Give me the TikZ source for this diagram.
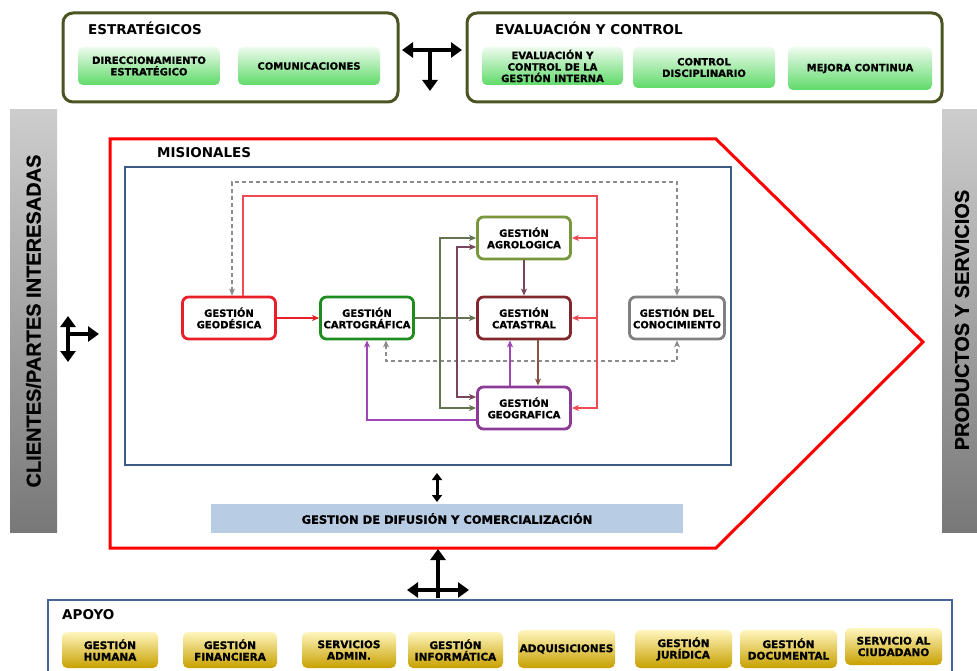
\documentclass[tikz,border=0pt]{standalone}
\usepackage{fontspec}
\setmainfont{DejaVu Sans}
\newfontfamily\heavyfont{DejaVu Sans}[BoldFeatures={FakeBold=1.1}]
\newfontfamily\libsans{Liberation Sans}[BoldFeatures={FakeBold=0.6}]
\usetikzlibrary{arrows.meta}
\definecolor{frameol}{RGB}{75,85,35}
\definecolor{gtop}{RGB}{238,251,238}
\definecolor{gbot}{RGB}{95,218,105}
\definecolor{ytop}{RGB}{255,246,190}
\definecolor{ymid}{RGB}{245,205,10}
\definecolor{ybot}{RGB}{200,160,0}
\definecolor{bluefr}{RGB}{60,90,130}
\definecolor{apoyofr}{RGB}{70,100,150}
\definecolor{difu}{RGB}{184,204,228}
\definecolor{graytop}{RGB}{205,205,205}
\definecolor{graybot}{RGB}{120,120,120}
\definecolor{cgeo}{RGB}{232,30,40}
\definecolor{ccarto}{RGB}{30,140,30}
\definecolor{cagro}{RGB}{120,150,60}
\definecolor{ccat}{RGB}{130,40,45}
\definecolor{cgeog}{RGB}{140,60,150}
\definecolor{ccon}{RGB}{128,128,128}
\definecolor{redbus}{RGB}{240,75,85}
\definecolor{olivec}{RGB}{100,115,80}
\definecolor{mauvec}{RGB}{120,70,90}
\definecolor{brownc}{RGB}{135,85,70}
\definecolor{purplec}{RGB}{160,70,180}
\definecolor{dashc}{RGB}{140,140,140}
\begin{document}
\begin{tikzpicture}[x=1pt,y=-1pt,
  bigtip/.tip={Triangle[width=15pt,length=11pt]},
  midtip/.tip={Triangle[width=10pt,length=7pt]},
  smtip/.tip={Stealth[length=7pt,width=6pt,inset=2pt]},
  titletext/.style={anchor=west,inner sep=0pt,font=\fontsize{13.5}{15}\selectfont\bfseries},
  lbl/.style={align=center,inner sep=0pt,font=\heavyfont\fontsize{10}{11.5}\selectfont\bfseries},
  outerframe/.style={draw=frameol,line width=3pt,rounded corners=10pt,inner sep=0pt},
  greenbox/.style={lbl,rounded corners=5pt,top color=gtop,bottom color=gbot,minimum height=38pt},
  yellowbox/.style={lbl,font=\heavyfont\fontsize{10.5}{11.5}\selectfont\bfseries,rounded corners=5pt,top color=ytop,middle color=ymid,bottom color=ybot,minimum height=36pt},
  mnode/.style={lbl,draw,fill=white,rounded corners=6pt,line width=2.8pt,minimum width=93pt,minimum height=42pt},
  graybar/.style={inner sep=0pt,top color=graytop,bottom color=graybot},
  sidetext/.style={rotate=90,inner sep=0pt,font=\libsans\bfseries\fontsize{20}{22}\selectfont},
  bigarr/.style={line width=3.5pt,black},
  conn/.style={line width=1.1pt},
  dconn/.style={line width=1.1pt,dashc,dash pattern=on 4pt off 3pt}
]
\useasboundingbox (0,0) rectangle (977,671);
\clip (0,0) rectangle (977,671);
\fill[white] (0,0) rectangle (977,671);

% top frames
\node[outerframe,minimum width=335pt,minimum height=89pt] (estr) at (230.5,57.5) {};
\node[outerframe,minimum width=475pt,minimum height=89pt] (evalc) at (704.5,57.5) {};
\node[titletext] (testr) at (88,28) {ESTRATÉGICOS};
\node[titletext] (teval) at (495,28) {EVALUACIÓN Y CONTROL};
\node[greenbox,minimum width=142pt] (dir) at (149,66) {DIRECCIONAMIENTO\\ESTRATÉGICO};
\node[greenbox,minimum width=142pt] (com) at (309,66) {COMUNICACIONES};
\node[greenbox,minimum width=141pt] (evg) at (552.5,66) {EVALUACIÓN Y\\CONTROL DE LA\\GESTIÓN INTERNA};
\node[greenbox,minimum width=142pt,minimum height=41pt] (cdis) at (704,67.5) {CONTROL\\DISCIPLINARIO};
\node[greenbox,minimum width=144pt,minimum height=43pt] (mej) at (860,68.5) {MEJORA CONTINUA};

% top T arrow
\coordinate (tL) at (402,50);
\coordinate (tR) at (462,50);
\coordinate (tM) at (430,50);
\coordinate (tD) at (430,91);
\draw[bigarr,{bigtip}-{bigtip}] (tL) -- (tR);
\draw[bigarr,-{bigtip}] (tM) -- (tD);

% side bars
\node[graybar,minimum width=47pt,minimum height=422pt] (lbar) at (33.5,321) {};
\node[sidetext] (ltext) at (lbar.center) {CLIENTES/PARTES INTERESADAS};
\node[graybar,minimum width=40pt,minimum height=422pt] (rbar) at (962,321) {};
\node[sidetext] (rtext) at (962,320) {PRODUCTOS Y SERVICIOS};

% left arrow
\coordinate (lv1) at (68,316);
\coordinate (lv2) at (68,362);
\coordinate (lh1) at (68,334);
\coordinate (lh2) at (99,334);
\draw[bigarr,{bigtip}-{bigtip}] (lv1) -- (lv2);
\draw[bigarr,-{bigtip}] (lh1) -- (lh2);

% misionales pentagon
\draw[red,line width=3pt] (110,139) -- (716,139) -- (923,342) -- (716,548) -- (110,548) -- cycle;
\node[titletext] (tmis) at (157,153) {MISIONALES};
\draw[bluefr,line width=2pt] (125,167) rectangle (731,465);

% process nodes
\node[mnode,draw=cgeo] (geo) at (229,318) {GESTIÓN\\GEODÉSICA};
\node[mnode,draw=ccarto] (carto) at (367,318) {GESTIÓN\\CARTOGRÁFICA};
\node[mnode,draw=cagro] (agro) at (524,238) {GESTIÓN\\AGROLOGICA};
\node[mnode,draw=ccat] (cat) at (524,318) {GESTIÓN\\CATASTRAL};
\node[mnode,draw=cgeog] (geog) at (524,408) {GESTIÓN\\GEOGRAFICA};
\node[mnode,draw=ccon,minimum width=95pt] (con) at (677,318) {GESTIÓN DEL\\CONOCIMIENTO};

% dashed links
\coordinate (dtop) at (450,182);
\coordinate (dbot) at (500,361);
\draw[dconn,{smtip}-{smtip}] ([xshift=3pt]geo.north) |- (dtop) -| (con.north);
\draw[dconn,{smtip}-{smtip}] ([xshift=19pt]carto.south) |- (dbot) -| (con.south);

% red bus
\coordinate (rtop) at (420,196);
\coordinate (rb1) at (597,238);
\coordinate (rb2) at (597,318);
\draw[conn,redbus] ([xshift=14pt]geo.north) |- (rtop) -| (rb1);
\draw[conn,redbus,-{smtip}] (rb1) |- (geog.east);
\draw[conn,redbus,-{smtip}] (rb1) -- (agro.east);
\draw[conn,redbus,-{smtip}] (rb2) -- (cat.east);

% direct links
\draw[conn,cgeo,-{smtip}] (geo) -- (carto);
\draw[conn,olivec,-{smtip}] (carto) -- (cat);
\coordinate (oj) at (440,318);
\draw[conn,olivec,-{smtip}] (oj) |- (agro.west);
\draw[conn,olivec,-{smtip}] (oj) |- (geog.west);
\coordinate (mj) at (457,318);
\draw[conn,mauvec,{smtip}-{smtip}] ([yshift=-9pt]agro.west) -| (mj) |- ([yshift=11pt]geog.west);
\draw[conn,mauvec,-{smtip}] (agro) -- (cat);
\draw[conn,brownc,-{smtip}] ([xshift=14pt]cat.south) -- ([xshift=14pt]geog.north);
\draw[conn,purplec,-{smtip}] ([xshift=-14pt]geog.north) -- ([xshift=-14pt]cat.south);
\draw[conn,purplec,-{smtip}] ([yshift=-12pt]geog.west) -| (carto.south);

% difusion
\coordinate (sa1) at (437,473);
\coordinate (sa2) at (437,502);
\draw[line width=3pt,{midtip}-{midtip}] (sa1) -- (sa2);
\node[fill=difu,minimum width=472pt,minimum height=29pt,inner sep=0pt,font=\heavyfont\fontsize{11.5}{13}\selectfont\bfseries] (difn) at (447,518.5) {GESTION DE DIFUSIÓN Y COMERCIALIZACIÓN};

% bottom T arrow
\coordinate (bv1) at (438,598);
\coordinate (bv2) at (438,549);
\coordinate (bh1) at (407,590);
\coordinate (bh2) at (469,590);
\draw[bigarr,-{bigtip}] (bv1) -- (bv2);
\draw[bigarr,{bigtip}-{bigtip}] (bh1) -- (bh2);

% apoyo
\draw[apoyofr,line width=2pt] (48,600) rectangle (952,680);
\node[titletext] (tapo) at (62,615) {APOYO};
\node[yellowbox,minimum width=96pt] (hum) at (110,650) {GESTIÓN\\HUMANA};
\node[yellowbox,minimum width=94pt] (fin) at (230,650) {GESTIÓN\\FINANCIERA};
\node[yellowbox,minimum width=94pt] (serv) at (349,650) {SERVICIOS\\ADMIN.};
\node[yellowbox,minimum width=95pt] (inf) at (455.5,650) {GESTIÓN\\INFORMÁTICA};
\node[yellowbox,minimum width=97pt,minimum height=38pt] (adq) at (566.5,649) {ADQUISICIONES};
\node[yellowbox,minimum width=97pt,minimum height=38pt] (jur) at (683.5,649) {GESTIÓN\\JURÍDICA};
\node[yellowbox,minimum width=97pt,minimum height=38pt] (doc) at (788.5,649) {GESTIÓN\\DOCUMENTAL};
\node[yellowbox,minimum width=97pt,minimum height=37pt] (ciu) at (893.5,646.5) {SERVICIO AL\\CIUDADANO};
\end{tikzpicture}
\end{document}
